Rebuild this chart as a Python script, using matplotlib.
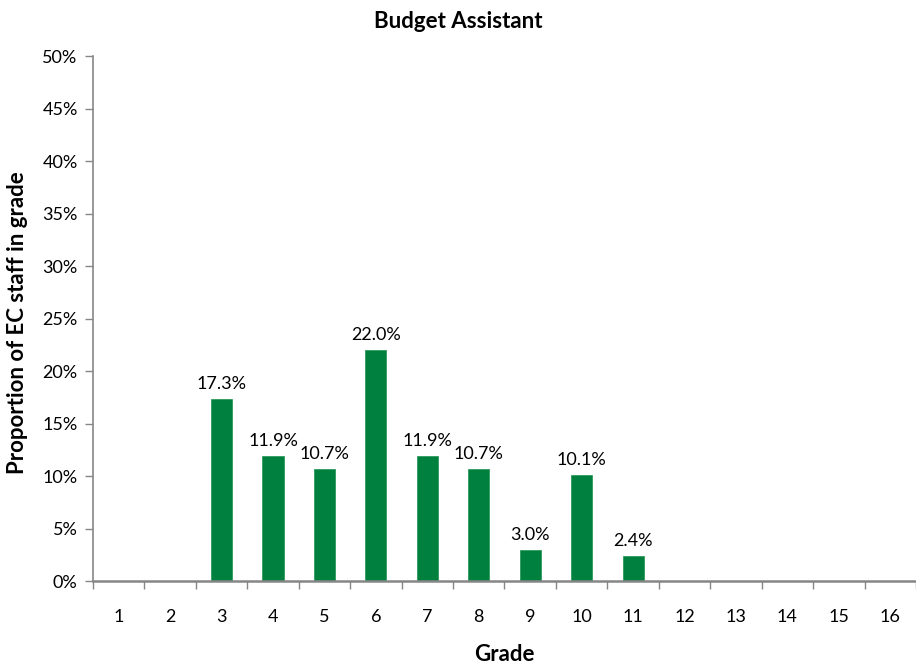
import matplotlib
matplotlib.use("Agg")
import matplotlib.pyplot as plt
import numpy as np
from matplotlib.ticker import FixedLocator, PercentFormatter

plt.rcParams['font.family'] = ['Lato', 'DejaVu Sans']

grades = [str(g) for g in range(1, 17)]
shares = [0, 0, 17.3, 11.9, 10.7, 22.0, 11.9, 10.7, 3.0, 10.1, 2.4, 0, 0, 0, 0, 0]
yticks = [0, 5, 10, 15, 20, 25, 30, 35, 40, 45, 50]

bar_color = '#00803F'
axis_color = '#868686'

fig = plt.figure(figsize=(9.16, 6.66), dpi=100)
ax = fig.add_axes([0.1015, 0.1276, 0.8985, 0.7883])

x = np.arange(len(grades))
bars = ax.bar(x, shares, width=0.41, color=bar_color, edgecolor='#2E9A5E', linewidth=0.6, zorder=2)

for xi, v in zip(x, shares):
    if v > 0:
        ax.annotate(f"{v:.1f}%", (xi, v), xytext=(0, 5), textcoords='offset points',
                    ha='center', va='bottom', fontsize=13, color='black')

ax.set_xlim(-0.5, len(grades) - 0.5)
ax.set_ylim(0, 50)
ax.set_yticks(yticks)
ax.yaxis.set_major_formatter(PercentFormatter(decimals=0))

ax.set_xticks(x)
ax.set_xticklabels(grades)
ax.xaxis.set_minor_locator(FixedLocator(np.arange(-0.5, len(grades), 1.0)))
ax.tick_params(axis='x', which='major', length=0, pad=20, labelsize=13)
ax.tick_params(axis='x', which='minor', length=6, color=axis_color, width=1)
ax.tick_params(axis='y', which='major', length=6, color=axis_color, width=1, pad=5, labelsize=13)

for side in ('top', 'right'):
    ax.spines[side].set_visible(False)
for side in ('left', 'bottom'):
    ax.spines[side].set_color(axis_color)
    ax.spines[side].set_linewidth(1.2)
ax.spines['bottom'].set_linewidth(1.8)

fig.text(0.5, 1 - 22 / 666, 'Budget Assistant', fontsize=16, fontweight='bold',
         ha='center', va='center')
ax.set_xlabel('Grade', fontsize=16, fontweight='bold', labelpad=14)
ax.set_ylabel('Proportion of EC staff in grade', fontsize=16, fontweight='bold')
ax.yaxis.set_label_coords(-0.079, 0.493)

fig.savefig('out.png', dpi=100)
